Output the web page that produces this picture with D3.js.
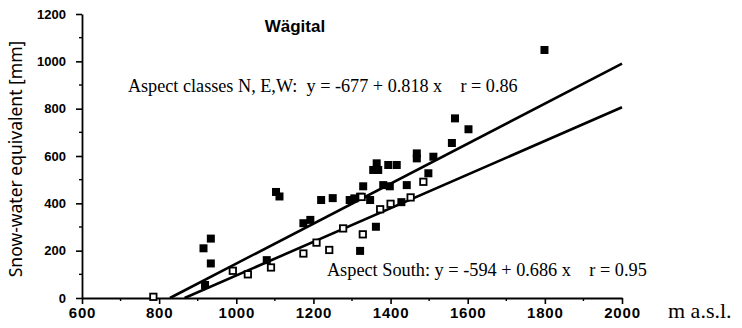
<!DOCTYPE html>
<html>
<head>
<meta charset="utf-8">
<script src="https://cdn.jsdelivr.net/npm/d3@7.9.0/dist/d3.min.js"></script>
<style>
  html, body { margin: 0; padding: 0; background: #fff; }
  svg { display: block; }
  .tick text { font-family: "Liberation Sans", Arial, sans-serif; font-weight: bold; fill: #000; }
  .serif { font-family: "Liberation Serif", "Times New Roman", serif; white-space: pre; }
</style>
</head>
<body>
<svg id="chart" width="742" height="328"></svg>
<script>
// Snow-water equivalent vs altitude, Wägital

// Aspect classes N, E, W (filled squares): [altitude m a.s.l., SWE mm]
const northEastWest = [
  [915, 210], [934, 251], [934, 146], [919, 55], [1079, 160],
  [1103, 448], [1112, 429], [1174, 316], [1192, 330], [1220, 414],
  [1250, 422], [1294, 414], [1306, 421], [1321, 428], [1329, 472],
  [1347, 414], [1362, 301], [1321, 199], [1364, 569], [1355, 541],
  [1368, 541], [1394, 562], [1416, 562], [1381, 477], [1398, 472],
  [1442, 477], [1428, 405], [1468, 611], [1468, 590], [1511, 597],
  [1498, 527], [1559, 655], [1567, 759], [1602, 713], [1799, 1048]
];

// Aspect South (open squares)
const south = [
  [785, 5], [991, 115], [1030, 100], [1090, 129], [1174, 188],
  [1208, 234], [1241, 203], [1277, 294], [1328, 269], [1325, 427],
  [1373, 375], [1400, 398], [1452, 425], [1485, 491]
];

// regression lines as drawn (start at zero crossing, end at 2000 m)
const lineNEW   = [[828, 0], [2000, 990]];
const lineSouth = [[866, 0], [2000, 806]];

const xTicks = [600, 800, 1000, 1200, 1400, 1600, 1800, 2000];
const yTicks = [0, 200, 400, 600, 800, 1000, 1200];
const xMinor = d3.range(700, 2000, 200);
const yMinor = d3.range(100, 1200, 200);

const svg = d3.select('#chart');

const x = d3.scaleLinear().domain([600, 2000]).range([82, 622]);
const y = d3.scaleLinear().domain([0, 1200]).range([298, 14]);

// axes
const xAxis = svg.append('g')
  .attr('transform', `translate(0,${y(0)})`)
  .call(d3.axisBottom(x).tickValues(xTicks).tickFormat(d3.format('d'))
    .tickSize(6).tickSizeOuter(0).tickPadding(3));
xAxis.select('.domain').attr('stroke-width', 2.2);
xAxis.selectAll('.tick line').attr('stroke-width', 1.6);
xAxis.selectAll('.tick text').attr('font-size', 15).attr('letter-spacing', 0.8);

const yAxis = svg.append('g')
  .attr('transform', `translate(${x(600)},0)`)
  .call(d3.axisLeft(y).tickValues(yTicks).tickFormat(d3.format('d'))
    .tickSize(6).tickSizeOuter(0).tickPadding(10));
yAxis.select('.domain').attr('stroke-width', 1.8);
yAxis.selectAll('.tick line').attr('stroke-width', 1.6);
yAxis.selectAll('.tick text').attr('font-size', 13);

// minor ticks
svg.append('g').selectAll('line').data(xMinor).join('line')
  .attr('x1', d => x(d)).attr('x2', d => x(d))
  .attr('y1', y(0)).attr('y2', y(0) + 3)
  .attr('stroke', '#000').attr('stroke-width', 1.4);
svg.append('g').selectAll('line').data(yMinor).join('line')
  .attr('x1', x(600) - 3).attr('x2', x(600))
  .attr('y1', d => y(d)).attr('y2', d => y(d))
  .attr('stroke', '#000').attr('stroke-width', 1.4);

// regression lines
const line = d3.line().x(d => x(d[0])).y(d => y(d[1]));
[lineNEW, lineSouth].forEach(l => {
  svg.append('path').attr('d', line(l))
    .attr('fill', 'none').attr('stroke', '#000').attr('stroke-width', 2.6);
});

// points
svg.append('g').selectAll('rect').data(northEastWest).join('rect')
  .attr('x', d => x(d[0]) - 4).attr('y', d => y(d[1]) - 4)
  .attr('width', 8).attr('height', 8)
  .attr('fill', '#000');

svg.append('g').selectAll('rect').data(south).join('rect')
  .attr('x', d => x(d[0]) - 3.2).attr('y', d => y(d[1]) - 3.2)
  .attr('width', 6.4).attr('height', 6.4)
  .attr('fill', '#fff').attr('stroke', '#000').attr('stroke-width', 1.8);

// labels
svg.append('text')
  .attr('x', x(1152)).attr('y', y(1124))
  .attr('text-anchor', 'middle')
  .attr('font-family', '"Liberation Sans", Arial, sans-serif')
  .attr('font-weight', 'bold').attr('font-size', 17)
  .text('Wägital');

svg.append('text').attr('class', 'serif')
  .attr('x', x(719)).attr('y', y(870))
  .attr('font-size', 18.2)
  .text('Aspect classes N, E,W:  y = -677 + 0.818 x    r = 0.86');

svg.append('text').attr('class', 'serif')
  .attr('x', x(1235)).attr('y', y(93))
  .attr('font-size', 18.3)
  .text('Aspect South: y = -594 + 0.686 x    r = 0.95');

svg.append('text').attr('class', 'serif')
  .attr('x', 668).attr('y', 318)
  .attr('font-size', 22)
  .text('m a.s.l.');

svg.append('text')
  .attr('transform', 'translate(22,159) rotate(-90)')
  .attr('text-anchor', 'middle')
  .attr('font-family', '"Noto Sans", "Open Sans", sans-serif')
  .attr('font-size', 17.5)
  .text('Snow-water equivalent [mm]');
</script>
</body>
</html>
